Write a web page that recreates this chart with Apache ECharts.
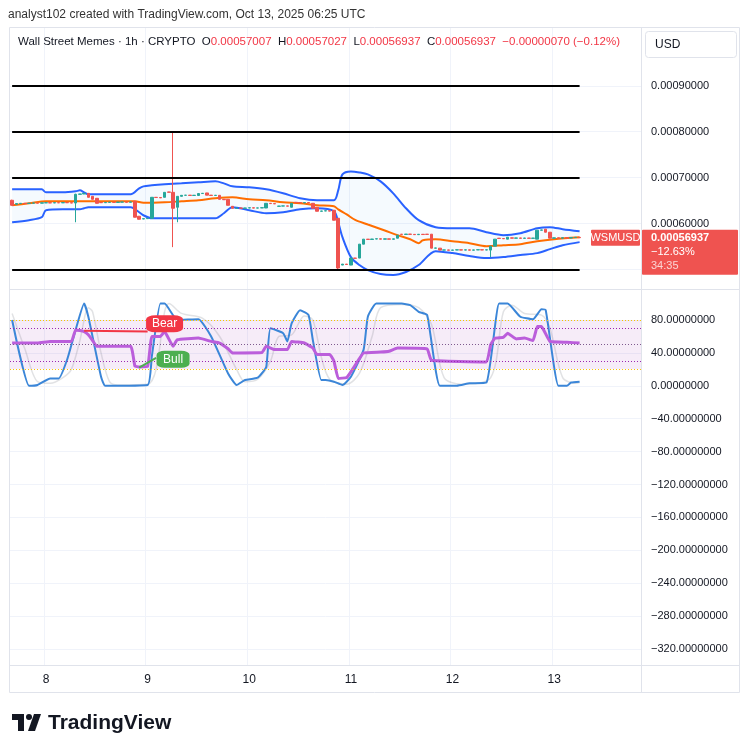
<!DOCTYPE html>
<html><head><meta charset="utf-8">
<script src="https://cdn.jsdelivr.net/npm/echarts@6/dist/echarts.min.js"></script>
<style>html,body{margin:0;padding:0;background:#fff;}#c{width:750px;height:753px;}</style>
</head><body><div id="c"></div>
<script>
// ---------- categories (hourly, 2025-10-07 16:00 UTC onward) ----------
const categories = [];
const startMs = Date.UTC(2025, 9, 7, 16);
for (let k = 0; k < 149; k++) {
  const d = new Date(startMs + k * 3600e3);
  categories.push(d.getUTCDate() + ' ' + String(d.getUTCHours()).padStart(2, '0') + ':00');
}
// ---------- tick labels ----------
const priceTicks = [0.0006, 0.0007, 0.0008, 0.0009];
const priceGrid = [0.0005, 0.0006, 0.0007, 0.0008, 0.0009];
const oscTicks = [80, 40, 0, -40, -80, -120, -160, -200, -240, -280, -320];
const levelLines = [0.0009, 0.0008, 0.0007, 0.0005];
const lastPrice = 0.00056937;

// ---------- candles [open, close, low, high] ----------
const ohlc = [
 [0.0006508,0.0006399,0.0006390,0.0006520],
 [0.0006420,0.0006436,0.0006415,0.0006440],
 [0.0006436,0.0006442,0.0006434,0.0006444],
 [0.0006442,0.0006438,0.0006436,0.0006444],
 [0.0006438,0.0006445,0.0006436,0.0006447],
 [0.0006445,0.0006450,0.0006443,0.0006452],
 [0.0006450,0.0006446,0.0006444,0.0006452],
 [0.0006446,0.0006452,0.0006444,0.0006454],
 [0.0006452,0.0006455,0.0006450,0.0006457],
 [0.0006455,0.0006450,0.0006448,0.0006457],
 [0.0006450,0.0006456,0.0006448,0.0006458],
 [0.0006456,0.0006452,0.0006450,0.0006458],
 [0.0006452,0.0006458,0.0006450,0.0006460],
 [0.0006458,0.0006455,0.0006453,0.0006460],
 [0.0006455,0.0006448,0.0006446,0.0006457],
 [0.0006448,0.0006638,0.0006030,0.0006650],
 [0.0006638,0.0006645,0.0006636,0.0006647],
 [0.0006645,0.0006659,0.0006643,0.0006661],
 [0.0006659,0.0006573,0.0006570,0.0006662],
 [0.0006594,0.0006529,0.0006525,0.0006597],
 [0.0006551,0.0006442,0.0006438,0.0006555],
 [0.0006460,0.0006455,0.0006453,0.0006462],
 [0.0006455,0.0006462,0.0006453,0.0006464],
 [0.0006462,0.0006466,0.0006460,0.0006468],
 [0.0006466,0.0006462,0.0006460,0.0006468],
 [0.0006462,0.0006468,0.0006460,0.0006470],
 [0.0006468,0.0006470,0.0006466,0.0006472],
 [0.0006470,0.0006466,0.0006464,0.0006472],
 [0.0006466,0.0006472,0.0006464,0.0006474],
 [0.0006486,0.0006139,0.0006135,0.0006490],
 [0.0006161,0.0006095,0.0006090,0.0006165],
 [0.0006100,0.0006108,0.0006098,0.0006110],
 [0.0006108,0.0006117,0.0006106,0.0006119],
 [0.0006117,0.0006573,0.0006115,0.0006576],
 [0.0006573,0.0006568,0.0006566,0.0006575],
 [0.0006568,0.0006560,0.0006558,0.0006570],
 [0.0006573,0.0006681,0.0006571,0.0006684],
 [0.0006690,0.0006681,0.0006679,0.0006692],
 [0.0006681,0.0006334,0.0005488,0.0008004],
 [0.0006356,0.0006594,0.0006030,0.0006600],
 [0.0006594,0.0006616,0.0006592,0.0006618],
 [0.0006616,0.0006620,0.0006614,0.0006622],
 [0.0006620,0.0006612,0.0006610,0.0006622],
 [0.0006612,0.0006618,0.0006610,0.0006620],
 [0.0006612,0.0006655,0.0006610,0.0006658],
 [0.0006655,0.0006660,0.0006653,0.0006662],
 [0.0006668,0.0006620,0.0006618,0.0006670],
 [0.0006620,0.0006612,0.0006610,0.0006622],
 [0.0006612,0.0006618,0.0006610,0.0006620],
 [0.0006616,0.0006529,0.0006526,0.0006618],
 [0.0006529,0.0006520,0.0006518,0.0006531],
 [0.0006529,0.0006399,0.0006396,0.0006531],
 [0.0006377,0.0006334,0.0006331,0.0006379],
 [0.0006334,0.0006340,0.0006332,0.0006342],
 [0.0006340,0.0006334,0.0006332,0.0006342],
 [0.0006334,0.0006340,0.0006332,0.0006342],
 [0.0006340,0.0006345,0.0006338,0.0006347],
 [0.0006345,0.0006338,0.0006336,0.0006347],
 [0.0006338,0.0006342,0.0006336,0.0006344],
 [0.0006342,0.0006346,0.0006340,0.0006348],
 [0.0006340,0.0006442,0.0006338,0.0006445],
 [0.0006442,0.0006436,0.0006434,0.0006444],
 [0.0006436,0.0006430,0.0006428,0.0006438],
 [0.0006377,0.0006382,0.0006375,0.0006384],
 [0.0006382,0.0006386,0.0006380,0.0006388],
 [0.0006386,0.0006380,0.0006378,0.0006388],
 [0.0006356,0.0006442,0.0006354,0.0006445],
 [0.0006464,0.0006458,0.0006456,0.0006466],
 [0.0006458,0.0006452,0.0006450,0.0006460],
 [0.0006452,0.0006458,0.0006450,0.0006460],
 [0.0006458,0.0006450,0.0006448,0.0006460],
 [0.0006442,0.0006334,0.0006331,0.0006445],
 [0.0006356,0.0006269,0.0006266,0.0006358],
 [0.0006269,0.0006275,0.0006267,0.0006277],
 [0.0006275,0.0006280,0.0006273,0.0006282],
 [0.0006280,0.0006272,0.0006270,0.0006282],
 [0.0006291,0.0006074,0.0006070,0.0006294],
 [0.0006117,0.0005033,0.0004989,0.0006120],
 [0.0005098,0.0005119,0.0005096,0.0005121],
 [0.0005119,0.0005110,0.0005108,0.0005121],
 [0.0005098,0.0005250,0.0005096,0.0005253],
 [0.0005250,0.0005245,0.0005243,0.0005252],
 [0.0005250,0.0005553,0.0005248,0.0005556],
 [0.0005553,0.0005662,0.0005551,0.0005665],
 [0.0005662,0.0005655,0.0005653,0.0005664],
 [0.0005655,0.0005665,0.0005653,0.0005667],
 [0.0005665,0.0005670,0.0005663,0.0005672],
 [0.0005670,0.0005662,0.0005660,0.0005672],
 [0.0005662,0.0005668,0.0005660,0.0005670],
 [0.0005668,0.0005660,0.0005658,0.0005670],
 [0.0005660,0.0005668,0.0005658,0.0005670],
 [0.0005683,0.0005748,0.0005681,0.0005751],
 [0.0005770,0.0005765,0.0005763,0.0005772],
 [0.0005765,0.0005772,0.0005763,0.0005774],
 [0.0005772,0.0005766,0.0005764,0.0005774],
 [0.0005766,0.0005760,0.0005758,0.0005768],
 [0.0005760,0.0005768,0.0005758,0.0005770],
 [0.0005768,0.0005762,0.0005760,0.0005770],
 [0.0005770,0.0005765,0.0005763,0.0005772],
 [0.0005770,0.0005466,0.0005463,0.0005773],
 [0.0005466,0.0005470,0.0005464,0.0005472],
 [0.0005466,0.0005423,0.0005420,0.0005468],
 [0.0005423,0.0005428,0.0005421,0.0005430],
 [0.0005428,0.0005420,0.0005418,0.0005430],
 [0.0005420,0.0005426,0.0005418,0.0005428],
 [0.0005426,0.0005430,0.0005424,0.0005432],
 [0.0005430,0.0005424,0.0005422,0.0005432],
 [0.0005424,0.0005429,0.0005422,0.0005431],
 [0.0005429,0.0005422,0.0005420,0.0005431],
 [0.0005422,0.0005428,0.0005420,0.0005430],
 [0.0005428,0.0005432,0.0005426,0.0005434],
 [0.0005432,0.0005426,0.0005424,0.0005434],
 [0.0005426,0.0005430,0.0005424,0.0005432],
 [0.0005423,0.0005510,0.0005271,0.0005515],
 [0.0005510,0.0005662,0.0005508,0.0005665],
 [0.0005683,0.0005676,0.0005674,0.0005685],
 [0.0005676,0.0005670,0.0005668,0.0005678],
 [0.0005662,0.0005705,0.0005660,0.0005708],
 [0.0005690,0.0005683,0.0005681,0.0005692],
 [0.0005683,0.0005688,0.0005681,0.0005690],
 [0.0005688,0.0005680,0.0005678,0.0005690],
 [0.0005680,0.0005686,0.0005678,0.0005688],
 [0.0005686,0.0005680,0.0005678,0.0005688],
 [0.0005680,0.0005685,0.0005678,0.0005687],
 [0.0005662,0.0005857,0.0005660,0.0005860],
 [0.0005857,0.0005862,0.0005855,0.0005864],
 [0.0005879,0.0005813,0.0005810,0.0005882],
 [0.0005813,0.0005683,0.0005680,0.0005816],
 [0.0005683,0.0005690,0.0005681,0.0005692],
 [0.0005690,0.0005684,0.0005682,0.0005692],
 [0.0005684,0.0005692,0.0005682,0.0005694],
 [0.0005692,0.0005686,0.0005684,0.0005694],
 [0.0005686,0.0005698,0.0005684,0.0005700],
 [0.0005698,0.0005701,0.0005696,0.0005703],
 [0.00057007,0.00056937,0.00056937,0.00057027]
];

// ---------- Bollinger bands (read at these candle indices) ----------
const bbIdx = [0,4,7,8,12,15,16,17,18,20,24,28,30,31,33,36,40,44,48,50,52,56,60,64,68,72,76,77,78,80,82,84,87,90,93,96,100,104,108,112,116,120,124,127,130,134];
const bbUpper = [0.0006746,0.0006746,0.0006746,0.0006681,0.0006681,0.0006703,0.0006724,0.0006681,0.0006638,0.0006638,0.0006638,0.0006638,0.0006768,0.0006811,0.0006833,0.0006855,0.0006876,0.0006898,0.0006920,0.0006876,0.0006811,0.0006790,0.0006746,0.0006659,0.0006551,0.0006508,0.0006508,0.0006724,0.0007071,0.0007137,0.0007115,0.0007071,0.0006920,0.0006659,0.0006334,0.0006074,0.0005922,0.0005900,0.0005900,0.0005813,0.0005748,0.0005792,0.0005900,0.0005922,0.0005879,0.0005835];
const bbLower = [0.0006030,0.0006074,0.0006139,0.0006291,0.0006312,0.0006312,0.0006312,0.0006334,0.0006356,0.0006356,0.0006356,0.0006356,0.0006247,0.0006182,0.0006117,0.0006117,0.0006117,0.0006117,0.0006117,0.0006226,0.0006356,0.0006291,0.0006226,0.0006247,0.0006312,0.0006334,0.0006269,0.0006030,0.0005705,0.0005271,0.0005098,0.0004989,0.0004902,0.0004881,0.0004946,0.0005098,0.0005401,0.0005358,0.0005293,0.0005250,0.0005271,0.0005315,0.0005358,0.0005445,0.0005531,0.0005597];
const midIdx = [0,4,8,16,24,29,31,36,40,44,48,52,56,60,64,68,72,76,77,79,81,84,88,91,94,96,97,100,104,108,112,116,120,124,128,134];
const midVal = [0.0006399,0.0006442,0.0006486,0.0006486,0.0006486,0.0006486,0.0006453,0.0006464,0.0006486,0.0006508,0.0006551,0.0006573,0.0006529,0.0006508,0.0006464,0.0006442,0.0006399,0.0006377,0.0006310,0.0006200,0.0006080,0.0005980,0.0005850,0.0005750,0.0005660,0.0005575,0.0005640,0.0005662,0.0005618,0.0005575,0.0005510,0.0005531,0.0005553,0.0005618,0.0005662,0.0005705];

// ---------- oscillator pane ----------
const rsiIdx = [0,6,9,14,15,17,18,19,20,28,29,30,32,33,35,36,38,39,44,47,49,51,52,59,60,62,65,66,69,71,72,75,76,77,79,80,82,83,87,89,91,98,99,112,113,114,116,117,119,121,123,124,125,127,131,134];
const rsiVal = [52,52,54,54,68,66,62,55,48,48,24,23,23.5,60,60,66,48,56,58,54,52,45,40,40.5,48,44,44,54,52,46,38,38,30,9,10,17,33,40,41,42,46,45,31,29,50,58,59,64,57,58,55,72,72,54,53,52];
const kIdx = [0,4,6,9,11,13,15,17,18,21,22,32,33,35,36,39,44,47,51,53,55,58,60,61,64,65,66,68,70,71,73,74,76,78,80,83,84,86,92,94,96,98,101,105,108,112,115,117,120,123,125,126,129,131,132,134];
const kVal = [80,0,1,9,9,32,68,100,84,11,0,1,36,100,100,80,81,60,15,1,7,10,23,70,64,54,76,92,86,56,7,7,5,1,11,44,84,100,100,98,90,86,0,0,3,4,100,100,84,81,93,92,0,0,4,5];
const dIdx = [0,3,6,9,12,14,16,18,19,21,23,25,32,34,36,37,40,45,49,53,55,58,61,63,66,69,71,73,75,79,82,85,87,92,96,99,102,106,113,116,118,121,125,127,130,133,134];
const dVal = [88,45,5,3,10,20,55,95,90,40,5,1,2,20,90,100,88,82,60,20,5,8,30,60,62,85,80,35,8,2,15,60,95,99,95,75,10,2,10,90,98,88,86,70,10,3,4];
const bearLine = [[17,67],[32,66]];
const bullLine = [[30,22],[34,34]];

const dayTick = (i, v) => typeof v === 'string' && v.endsWith(' 00:00');
const minus = s => s.replace('-', '\u2212');
const FONT = '"Liberation Sans", Arial, sans-serif';
const TXT = '#131722';

const chart = echarts.init(document.getElementById('c'), null, {renderer: 'canvas'});
const pairs = (idx, vals) => idx.map((i, k) => [i, vals[k]]);

const option = {
  animation: false,
  backgroundColor: '#ffffff',
  textStyle: {fontFamily: FONT},
  grid: [
    {left: 10, top: 28, width: 631, height: 262},
    {left: 10, top: 290, width: 631, height: 375}
  ],
  xAxis: [
    {type: 'category', gridIndex: 0, data: categories, boundaryGap: true,
     axisLine: {show: false}, axisTick: {show: false}, axisLabel: {show: false},
     splitLine: {show: true, interval: dayTick, lineStyle: {color: '#f0f3fa', width: 1}}},
    {type: 'category', gridIndex: 1, data: categories, boundaryGap: true,
     axisLine: {show: false}, axisTick: {show: false},
     axisLabel: {show: true, interval: dayTick, formatter: v => v.split(' ')[0], color: TXT, fontSize: 12, margin: 9, fontFamily: FONT},
     splitLine: {show: true, interval: dayTick, lineStyle: {color: '#f0f3fa', width: 1}}}
  ],
  yAxis: [
    {type: 'value', gridIndex: 0, position: 'right', min: 0.0004555, max: 0.0010258, scale: true,
     axisLine: {show: false}, axisTick: {show: false, customValues: priceGrid},
     axisLabel: {customValues: priceTicks, formatter: v => v.toFixed(8), color: TXT, fontSize: 11, margin: 10, fontFamily: FONT},
     splitLine: {show: true, lineStyle: {color: '#f0f3fa', width: 1}}},
    {type: 'value', gridIndex: 1, position: 'right', min: -339.5, max: 116.5,
     axisLine: {show: false}, axisTick: {show: false, customValues: oscTicks},
     axisLabel: {customValues: oscTicks, formatter: v => minus(v.toFixed(8)), color: TXT, fontSize: 11, margin: 10, fontFamily: FONT},
     splitLine: {show: true, lineStyle: {color: '#f0f3fa', width: 1}}}
  ],
  series: [
    {name: 'bbBase', type: 'line', xAxisIndex: 0, yAxisIndex: 0, stack: 'bb', smooth: 0.3, symbol: 'none',
     data: pairs(bbIdx, bbLower), lineStyle: {opacity: 0}, silent: true, z: 1},
    {name: 'bbFill', type: 'line', xAxisIndex: 0, yAxisIndex: 0, stack: 'bb', smooth: 0.3, symbol: 'none',
     data: bbIdx.map((i, k) => [i, bbUpper[k] - bbLower[k]]), lineStyle: {opacity: 0},
     areaStyle: {color: 'rgba(33,150,243,0.06)'}, silent: true, z: 1},
    {name: 'upper', type: 'line', xAxisIndex: 0, yAxisIndex: 0, smooth: 0.3, symbol: 'none',
     data: pairs(bbIdx, bbUpper), lineStyle: {color: '#2962ff', width: 2}, z: 3},
    {name: 'lower', type: 'line', xAxisIndex: 0, yAxisIndex: 0, smooth: 0.3, symbol: 'none',
     data: pairs(bbIdx, bbLower), lineStyle: {color: '#2962ff', width: 2}, z: 3},
    {name: 'basis', type: 'line', xAxisIndex: 0, yAxisIndex: 0, smooth: 0.3, symbol: 'none',
     data: pairs(midIdx, midVal), lineStyle: {color: '#ff6d00', width: 2}, z: 3},
    {name: 'WSMUSD', type: 'candlestick', xAxisIndex: 0, yAxisIndex: 0, data: ohlc, barWidth: 3,
     itemStyle: {color: '#26a69a', color0: '#ef5350', borderColor: '#26a69a', borderColor0: '#ef5350', borderWidth: 1},
     z: 4,
     markLine: {silent: true, symbol: ['none', 'none'], label: {show: false}, animation: false,
       data: levelLines.map(v => [{coord: [0, v], lineStyle: {color: '#000', width: 2, type: 'solid'}}, {coord: [134, v]}])
         .concat([{yAxis: lastPrice, lineStyle: {color: '#ef5350', width: 1, type: [1, 3]}}])}
    },
    // oscillator
    {name: 'D', type: 'line', xAxisIndex: 1, yAxisIndex: 1, smooth: 0.3, symbol: 'none',
     data: pairs(dIdx, dVal), lineStyle: {color: 'rgba(120,123,134,0.22)', width: 1.5}, z: 2,
     markArea: {silent: true, itemStyle: {color: 'rgba(156,39,176,0.09)'}, data: [[{yAxis: 20}, {yAxis: 80}]]},
     markLine: {silent: true, symbol: ['none', 'none'], label: {show: false},
       data: [
         {yAxis: 80, lineStyle: {color: '#f7c600', width: 1, type: [1, 2]}},
         {yAxis: 20, lineStyle: {color: '#f7c600', width: 1, type: [1, 2]}},
         {yAxis: 70, lineStyle: {color: '#9c27b0', width: 1, type: [1, 2]}},
         {yAxis: 50, lineStyle: {color: '#7e5a8e', width: 1, type: [1, 2]}},
         {yAxis: 30, lineStyle: {color: '#9c27b0', width: 1, type: [1, 2]}}
       ]}},
    {name: 'K', type: 'line', xAxisIndex: 1, yAxisIndex: 1, smooth: 0.15, symbol: 'none',
     data: pairs(kIdx, kVal), lineStyle: {color: '#3b86d8', width: 2}, z: 3},
    {name: 'RSI', type: 'line', xAxisIndex: 1, yAxisIndex: 1, smooth: 0.1, symbol: 'none',
     data: pairs(rsiIdx, rsiVal), lineStyle: {color: '#bb5edb', width: 3}, z: 4,
     markLine: {silent: true, symbol: ['none', 'none'], label: {show: false},
       data: [
         [{coord: bearLine[0], lineStyle: {color: '#f23645', width: 2, type: 'solid'}}, {coord: bearLine[1]}],
         [{coord: bullLine[0], lineStyle: {color: '#4caf50', width: 2, type: 'solid'}}, {coord: bullLine[1]}]
       ]},
     markPoint: {silent: true, z: 10,
       data: [
         {coord: [36, 75.4], symbol: 'roundRect', symbolSize: [37, 17], itemStyle: {color: '#f23645'},
          label: {show: true, formatter: 'Bear', color: '#fff', fontSize: 12, fontFamily: FONT}},
         {coord: [38, 32.2], symbol: 'roundRect', symbolSize: [33, 17], itemStyle: {color: '#4caf50'},
          label: {show: true, formatter: 'Bull', color: '#fff', fontSize: 12, fontFamily: FONT}}
       ]}}
  ]
};
chart.setOption(option);

const yLast = chart.convertToPixel({yAxisIndex: 0}, lastPrice);
const frame = '#e0e3eb';
chart.setOption({
  graphic: [
    {type: 'rect', silent: true, z: 100, shape: {x: 9.5, y: 27.5, width: 730, height: 665}, style: {fill: null, stroke: frame, lineWidth: 1}},
    {type: 'line', silent: true, z: 100, shape: {x1: 641.5, y1: 28, x2: 641.5, y2: 692}, style: {stroke: frame, lineWidth: 1}},
    {type: 'line', silent: true, z: 100, shape: {x1: 10, y1: 289.5, x2: 740, y2: 289.5}, style: {stroke: frame, lineWidth: 1}},
    {type: 'line', silent: true, z: 100, shape: {x1: 10, y1: 665.5, x2: 740, y2: 665.5}, style: {stroke: frame, lineWidth: 1}},
    {type: 'text', silent: true, z: 100, x: 8, y: 15, style: {text: 'analyst102 created with TradingView.com, Oct 13, 2025 06:25 UTC', fill: '#333', font: '12px ' + FONT, verticalAlign: 'middle'}},
    {type: 'text', silent: true, z: 100, x: 18, y: 42, style: {
      text: '{n|Wall Street Memes · 1h · CRYPTO}  {n|O}{r|0.00057007}  {n|H}{r|0.00057027}  {n|L}{r|0.00056937}  {n|C}{r|0.00056937}  {r|\u22120.00000070 (\u22120.12%)}',
      verticalAlign: 'middle', font: '11.5px ' + FONT,
      rich: {n: {fill: TXT, font: '11.5px ' + FONT}, r: {fill: '#f23645', font: '11.5px ' + FONT}}}},
    {type: 'rect', silent: true, z: 100, shape: {x: 645.5, y: 31.5, width: 91, height: 26, r: 3}, style: {fill: '#fff', stroke: frame, lineWidth: 1}},
    {type: 'text', silent: true, z: 101, x: 655, y: 45, style: {text: 'USD', fill: TXT, font: '12px ' + FONT, verticalAlign: 'middle'}},
    // last price labels
    {type: 'rect', silent: true, z: 102, shape: {x: 591, y: yLast - 8, width: 49, height: 16, r: 1}, style: {fill: '#ef5350'}},
    {type: 'text', silent: true, z: 103, x: 615.5, y: yLast, style: {text: 'WSMUSD', fill: '#fff', font: '11px ' + FONT, align: 'center', verticalAlign: 'middle'}},
    {type: 'rect', silent: true, z: 102, shape: {x: 642, y: yLast - 8, width: 96, height: 45, r: 1}, style: {fill: '#ef5350'}},
    {type: 'text', silent: true, z: 103, x: 651, y: yLast, style: {text: '0.00056937', fill: '#fff', font: 'bold 11px ' + FONT, verticalAlign: 'middle'}},
    {type: 'text', silent: true, z: 103, x: 651, y: yLast + 14, style: {text: '\u221212.63%', fill: '#fff', font: '11px ' + FONT, verticalAlign: 'middle'}},
    {type: 'text', silent: true, z: 103, x: 651, y: yLast + 28, style: {text: '34:35', fill: 'rgba(255,255,255,0.75)', font: '11px ' + FONT, verticalAlign: 'middle'}},
    // logo
    {type: 'rect', silent: true, z: 100, shape: {x: 12, y: 714, width: 12, height: 6}, style: {fill: TXT}},
    {type: 'rect', silent: true, z: 100, shape: {x: 18, y: 714, width: 6, height: 17}, style: {fill: TXT}},
    {type: 'circle', silent: true, z: 100, shape: {cx: 29, cy: 717, r: 3}, style: {fill: TXT}},
    {type: 'polygon', silent: true, z: 100, shape: {points: [[34, 714], [41, 714], [35, 731], [28, 731]]}, style: {fill: TXT}},
    {type: 'text', silent: true, z: 100, x: 48, y: 723, style: {text: 'TradingView', fill: TXT, font: 'bold 21px ' + FONT, verticalAlign: 'middle'}}
  ]
});
</script>
</body></html>
